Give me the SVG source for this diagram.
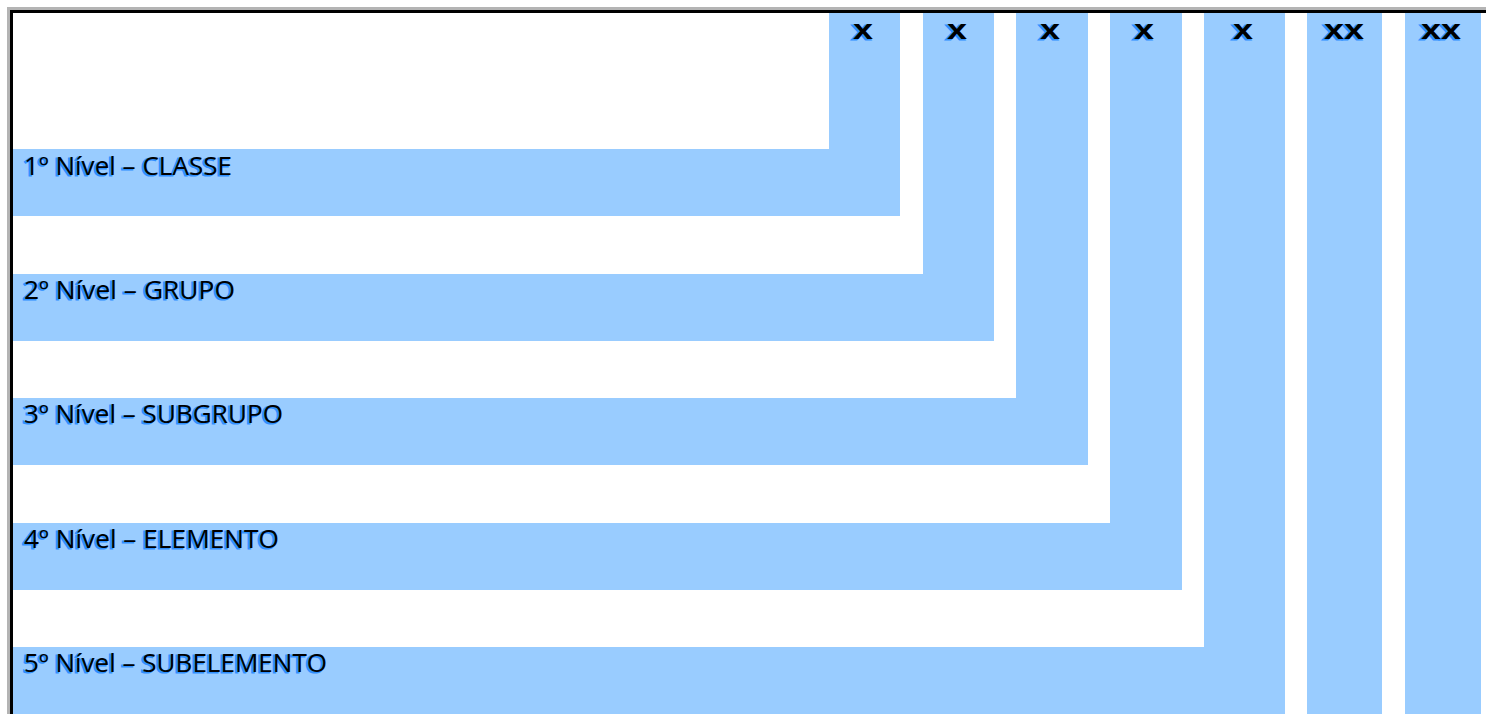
<svg xmlns="http://www.w3.org/2000/svg" width="1486" height="714" viewBox="0 0 1486 714">
<style>
.blk{fill:#99CCFF}
.lbl{font-family:"Open Sans","Liberation Sans",sans-serif;font-size:25px}
.sh{fill:#2f8fff;stroke:#2f8fff;stroke-width:1.2}
.tx{fill:#000}
.mk{font-family:"Liberation Sans",sans-serif;font-size:28px;font-weight:bold}
</style>
<rect x="0" y="0" width="1486" height="714" fill="#fff"/>
<g id="frame">
<rect x="7" y="7" width="1479" height="3" fill="#b4b4b4"/>
<rect x="7" y="7" width="3" height="707" fill="#b4b4b4"/>
<rect x="10" y="10" width="1476" height="3" fill="#000"/>
<rect x="10" y="10" width="3" height="704" fill="#000"/>
</g>
<g id="level1">
<rect class="blk" x="13" y="149" width="887" height="67"/>
<rect class="blk" x="829" y="13" width="71" height="203"/>
<text class="lbl sh" x="22" y="176" textLength="208" lengthAdjust="spacingAndGlyphs">1º Nível – CLASSE</text>
<text class="lbl tx" x="24" y="175" textLength="208" lengthAdjust="spacingAndGlyphs">1º Nível – CLASSE</text>
<text class="mk sh" x="851" y="40" textLength="20" lengthAdjust="spacingAndGlyphs">x</text>
<text class="mk tx" x="853" y="39" textLength="20" lengthAdjust="spacingAndGlyphs">x</text>
</g>
<g id="level2">
<rect class="blk" x="13" y="274" width="981" height="67"/>
<rect class="blk" x="923" y="13" width="71" height="328"/>
<text class="lbl sh" x="22" y="300" textLength="211" lengthAdjust="spacingAndGlyphs">2º Nível – GRUPO</text>
<text class="lbl tx" x="24" y="299" textLength="211" lengthAdjust="spacingAndGlyphs">2º Nível – GRUPO</text>
<text class="mk sh" x="945" y="40" textLength="20" lengthAdjust="spacingAndGlyphs">x</text>
<text class="mk tx" x="947" y="39" textLength="20" lengthAdjust="spacingAndGlyphs">x</text>
</g>
<g id="level3">
<rect class="blk" x="13" y="398" width="1075" height="67"/>
<rect class="blk" x="1016" y="13" width="72" height="452"/>
<text class="lbl sh" x="22" y="424" textLength="259" lengthAdjust="spacingAndGlyphs">3º Nível – SUBGRUPO</text>
<text class="lbl tx" x="24" y="423" textLength="259" lengthAdjust="spacingAndGlyphs">3º Nível – SUBGRUPO</text>
<text class="mk sh" x="1038" y="40" textLength="20" lengthAdjust="spacingAndGlyphs">x</text>
<text class="mk tx" x="1040" y="39" textLength="20" lengthAdjust="spacingAndGlyphs">x</text>
</g>
<g id="level4">
<rect class="blk" x="13" y="523" width="1169" height="67"/>
<rect class="blk" x="1110" y="13" width="72" height="577"/>
<text class="lbl sh" x="22" y="549" textLength="255" lengthAdjust="spacingAndGlyphs">4º Nível – ELEMENTO</text>
<text class="lbl tx" x="24" y="548" textLength="255" lengthAdjust="spacingAndGlyphs">4º Nível – ELEMENTO</text>
<text class="mk sh" x="1132" y="40" textLength="20" lengthAdjust="spacingAndGlyphs">x</text>
<text class="mk tx" x="1134" y="39" textLength="20" lengthAdjust="spacingAndGlyphs">x</text>
</g>
<g id="level5">
<rect class="blk" x="13" y="647" width="1272" height="67"/>
<rect class="blk" x="1204" y="13" width="81" height="701"/>
<text class="lbl sh" x="22" y="673" textLength="303" lengthAdjust="spacingAndGlyphs">5º Nível – SUBELEMENTO</text>
<text class="lbl tx" x="24" y="672" textLength="303" lengthAdjust="spacingAndGlyphs">5º Nível – SUBELEMENTO</text>
<text class="mk sh" x="1231" y="40" textLength="20" lengthAdjust="spacingAndGlyphs">x</text>
<text class="mk tx" x="1233" y="39" textLength="20" lengthAdjust="spacingAndGlyphs">x</text>
</g>
<g id="level6">
<rect class="blk" x="1307" y="13" width="75" height="701"/>
<text class="mk sh" x="1322" y="40" textLength="40" lengthAdjust="spacingAndGlyphs">xx</text>
<text class="mk tx" x="1324" y="39" textLength="40" lengthAdjust="spacingAndGlyphs">xx</text>
</g>
<g id="level7">
<rect class="blk" x="1405" y="13" width="76" height="701"/>
<text class="mk sh" x="1419" y="40" textLength="40" lengthAdjust="spacingAndGlyphs">xx</text>
<text class="mk tx" x="1421" y="39" textLength="40" lengthAdjust="spacingAndGlyphs">xx</text>
</g>
<g id="connectors"/>
</svg>
